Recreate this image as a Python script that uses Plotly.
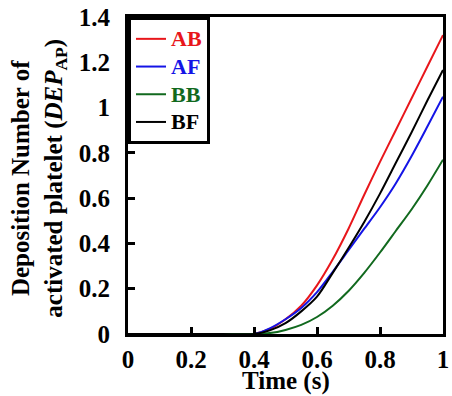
import plotly.graph_objects as go

time = [0.0, 0.1, 0.2, 0.3, 0.4, 0.45, 0.5, 0.55, 0.6, 0.65, 0.7, 0.75, 0.8, 0.85, 0.9, 0.95, 1.0]
ab = [0, 0, 0, 0, 0, 0.022, 0.065, 0.125, 0.215, 0.33, 0.465, 0.615, 0.76, 0.9, 1.04, 1.18, 1.32]
af = [0, 0, 0, 0, 0, 0.025, 0.065, 0.115, 0.185, 0.275, 0.37, 0.465, 0.56, 0.665, 0.785, 0.915, 1.048]
bb = [0, 0, 0, 0, 0, 0.004, 0.018, 0.04, 0.075, 0.125, 0.19, 0.27, 0.36, 0.455, 0.55, 0.655, 0.77]
bf = [0, 0, 0, 0, 0, 0.016, 0.048, 0.1, 0.165, 0.27, 0.38, 0.495, 0.62, 0.755, 0.89, 1.03, 1.166]

series = [("AB", ab, "#e8161b"), ("AF", af, "#1414e6"), ("BB", bb, "#11691e"), ("BF", bf, "#000000")]

x_title = "Time (s)"
y_title_lines = ["Deposition Number of", "activated platelet (<i>DEP</i><sub>AP</sub>)"]

SERIF = "Liberation Serif"

fig = go.Figure()
for name, ys, col in series:
    fig.add_trace(go.Scatter(
        x=time, y=ys, mode="lines", line=dict(color=col, width=2, shape="spline", smoothing=0.8),
        name=f"<span style='color:{col};font-size:22px'>{name}</span>"))

def bold(size):
    return dict(family=SERIF, size=size, color="black", weight="bold")

axis_common = dict(showline=True, linecolor="black", linewidth=3, mirror=True,
                   ticks="inside", ticklen=7, tickwidth=3, tickcolor="black",
                   showgrid=False, zeroline=False, automargin=False,
                   tickfont=bold(25))

fig.update_layout(
    width=452, height=396,
    margin=dict(l=128, r=9, t=17, b=62),
    paper_bgcolor="white", plot_bgcolor="white",
    font=bold(25),
    showlegend=True,
    legend=dict(x=0, y=1, xanchor="left", yanchor="top", bgcolor="white",
                bordercolor="black", borderwidth=3,
                font=dict(family=SERIF, size=19, weight="bold"),
                itemwidth=30, tracegroupgap=0),
    xaxis=dict(range=[0, 1], dtick=0.2, tick0=0, ticklabelstandoff=1, **axis_common),
    yaxis=dict(range=[0, 1.4], dtick=0.2, tick0=0, ticklabelstandoff=10, **axis_common),
)
fig.update_xaxes(ticklabeloverflow="allow")
fig.update_yaxes(ticklabeloverflow="allow")

fig.add_annotation(text=x_title, xref="paper", yref="paper",
                   x=0.5, y=-0.148, xanchor="center", yanchor="middle",
                   showarrow=False, font=bold(25))
fig.add_annotation(text="<br>".join(y_title_lines), xref="paper", yref="paper",
                   x=(39 - 128) / 315, y=0.49, xanchor="center", yanchor="middle", textangle=-90,
                   showarrow=False, font=bold(25))

fig.write_html("out.html", config={"displayModeBar": False},
               post_script="document.body.style.margin='0px';")
